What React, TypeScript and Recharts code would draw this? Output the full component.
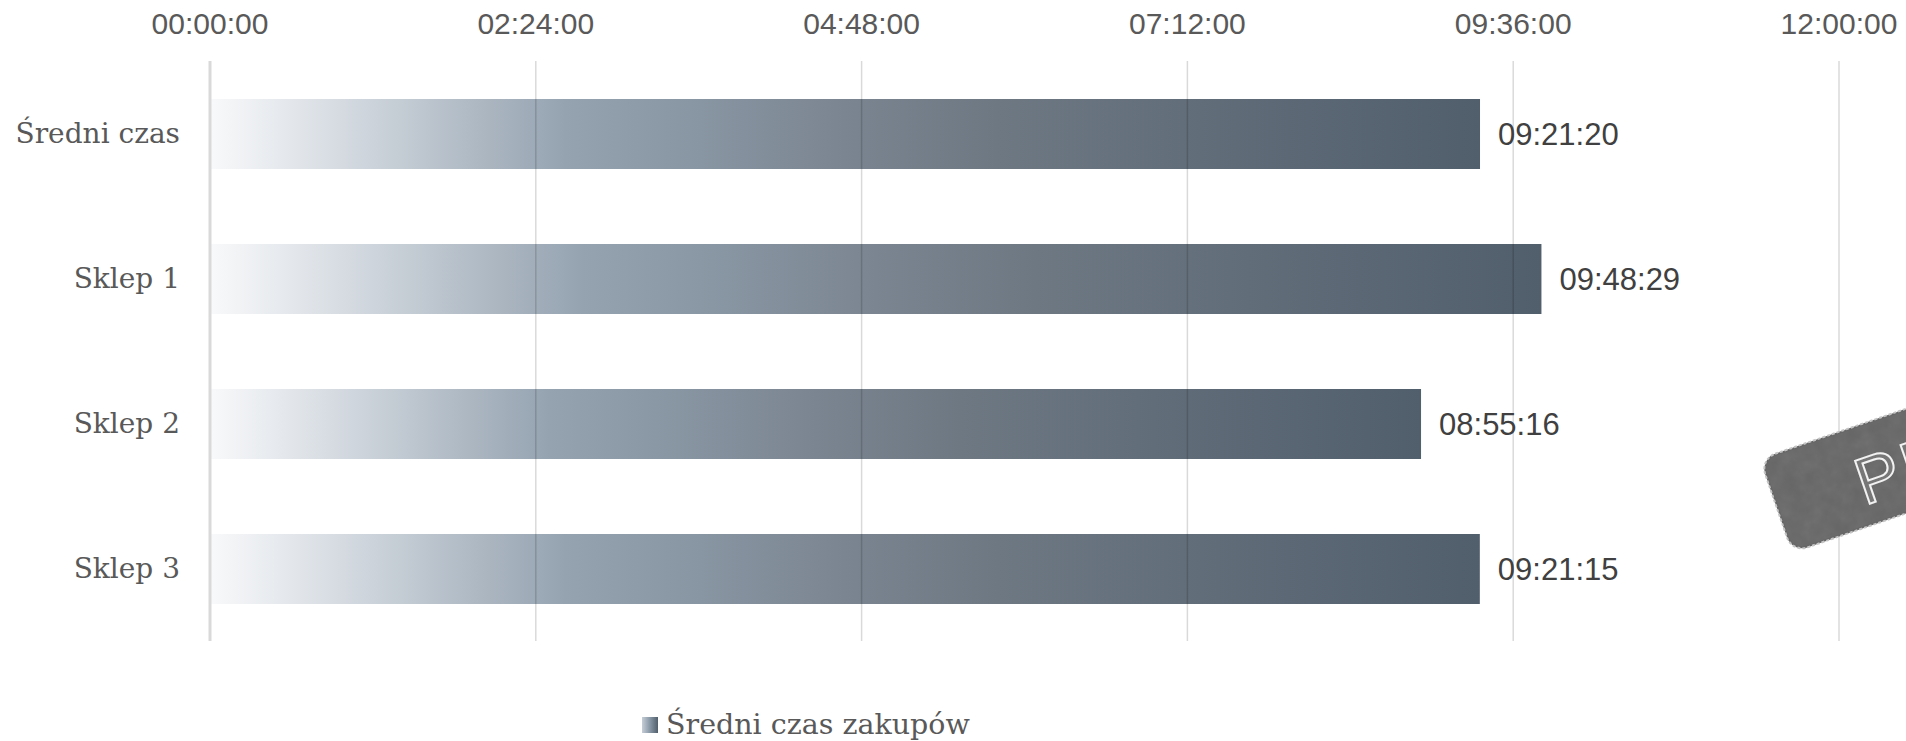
import { BarChart, Bar, XAxis, YAxis, LabelList, ReferenceLine } from "recharts";

// average shopping time per store, as hh:mm:ss
const stores = ["Średni czas", "Sklep 1", "Sklep 2", "Sklep 3"];
const avgTimes = ["09:21:20", "09:48:29", "08:55:16", "09:21:15"];
const axisTicks = ["00:00:00", "02:24:00", "04:48:00", "07:12:00", "09:36:00", "12:00:00"];
const seriesName = "Średni czas zakupów";

const toSeconds = (t: string) => {
  const [h, m, s] = t.split(":").map(Number);
  return h * 3600 + m * 60 + s;
};
const pad = (n: number) => String(n).padStart(2, "0");
const toClock = (sec: number) =>
  `${pad(Math.floor(sec / 3600))}:${pad(Math.floor((sec % 3600) / 60))}:${pad(sec % 60)}`;

const data = stores.map((store, i) => ({ store, label: avgTimes[i], seconds: toSeconds(avgTimes[i]) }));
const tickValues = axisTicks.map(toSeconds);

const SANS = "'Liberation Sans', Arial, sans-serif";
const SERIF = "'DejaVu Serif', serif";

function LegendBox() {
  return (
    <div style={{ position: "absolute", left: 642, top: 708, display: "flex", alignItems: "center",
      fontFamily: SERIF, fontSize: 28.5, color: "#595959", whiteSpace: "nowrap" }}>
      <span style={{ width: 16, height: 16, marginRight: 8, background: "linear-gradient(90deg, #c6ced6, #8e9dab 45%, #515e6c)" }} />
      {seriesName}
    </div>
  );
}

function Stamp() {
  // grey rubber stamp sitting at the right edge, mostly cut off
  return (
    <svg width={1906} height={741} style={{ position: "absolute", left: 0, top: 0, pointerEvents: "none" }}>
      <defs>
        <filter id="grain" x="0" y="0" width="100%" height="100%">
          <feTurbulence type="fractalNoise" baseFrequency="0.07" numOctaves={3} seed={4} />
          <feColorMatrix type="saturate" values="0" />
          <feComposite in2="SourceGraphic" operator="in" />
        </filter>
      </defs>
      <g transform="translate(1760,459) rotate(-19)">
        <rect x={0} y={0} width={330} height={99} rx={16} fill="#666" stroke="#c4c4c4" strokeWidth={2} strokeDasharray="3 2" />
        <rect x={2} y={2} width={326} height={95} rx={14} fill="#fff" opacity={0.12} filter="url(#grain)" />
        <text x={84} y={78} fontFamily={SANS} fontSize={66} fill="#777" stroke="#f2f2f2" strokeWidth={2} letterSpacing={4}>
          PR
        </text>
      </g>
    </svg>
  );
}

export default function App() {
  return (
    <div style={{ position: "absolute", left: 0, top: 0, width: 1906, height: 741, background: "#fff", overflow: "hidden" }}>
      <BarChart width={1906} height={741} data={data} layout="vertical"
        margin={{ top: 0, right: 67, left: 0, bottom: 100 }}>
        <defs>
          <linearGradient id="barGrad" x1="0" y1="0" x2="1" y2="0">
            <stop offset="0" stopColor="#f8f9fa" />
            <stop offset="0.07" stopColor="#e1e5ea" />
            <stop offset="0.15" stopColor="#c4ccd4" />
            <stop offset="0.22" stopColor="#aab5c0" />
            <stop offset="0.28" stopColor="#95a3b1" />
            <stop offset="0.36" stopColor="#8b99a6" />
            <stop offset="0.5" stopColor="#7b8591" />
            <stop offset="0.62" stopColor="#6d7883" />
            <stop offset="0.78" stopColor="#616d79" />
            <stop offset="1" stopColor="#515e6c" />
          </linearGradient>
        </defs>
        <XAxis type="number" orientation="top" height={61} domain={[0, tickValues[tickValues.length - 1]]}
          ticks={tickValues} tickFormatter={toClock} axisLine={false} tickLine={false} tickSize={0} tickMargin={27}
          tick={{ fill: "#595959", fontSize: 30, fontFamily: SANS }} interval={0} />
        <YAxis type="category" dataKey="store" width={210} tickSize={0} tickMargin={30} tickLine={false}
          axisLine={{ stroke: "#d9d9d9", strokeWidth: 3 }}
          tick={{ fill: "#595959", fontSize: 28, fontFamily: SERIF }} />
        <Bar dataKey="seconds" name={seriesName} barSize={70} fill="url(#barGrad)" isAnimationActive={false}>
          <LabelList dataKey="label" position="right" offset={18}
            style={{ fill: "#404040", fontSize: 31, fontFamily: SANS }} />
        </Bar>
        {tickValues.slice(1).map((v) => (
          <ReferenceLine key={v} x={v} stroke="#000" strokeOpacity={0.15} strokeWidth={1.5} />
        ))}
      </BarChart>
      <LegendBox />
      <Stamp />
    </div>
  );
}
